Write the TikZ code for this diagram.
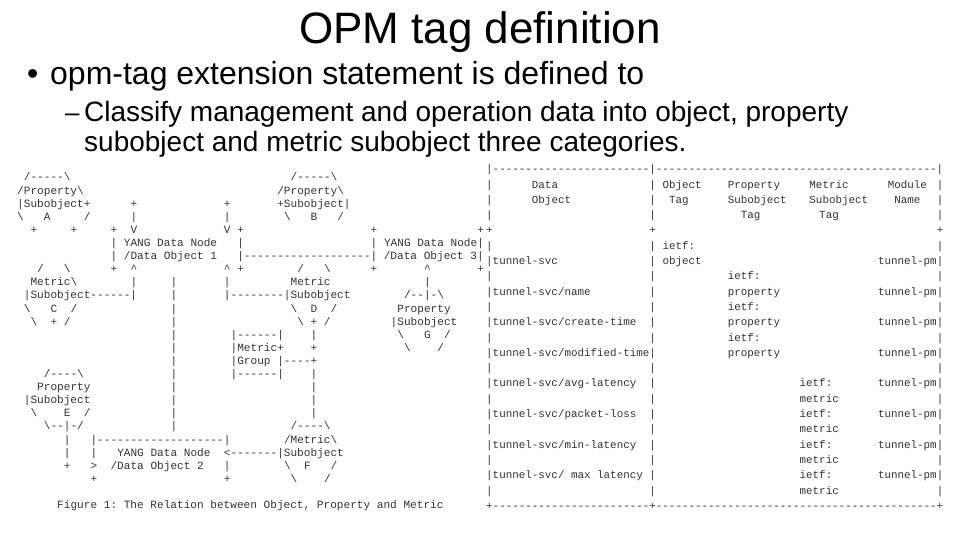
\documentclass[tikz,border=0pt]{standalone}
\usepackage{fontspec}
\setmainfont{Liberation Sans}
\setmonofont{Liberation Mono}
\newcounter{tk}
\newcommand\bs{\textbackslash}
\newcommand\ct{\textasciicircum}
\newcommand\La[3]{\stepcounter{tk}\node[lt] (a\arabic{tk}) at ({17+#1*6.67},{181+#2*13.1}) {#3};}
\newcommand\Tb[3]{\stepcounter{tk}\node[tb] (b\arabic{tk}) at ({486+#1*6.53},{172.7+#2*15.3}) {#3};}
\begin{document}
\begin{tikzpicture}[x=1pt,y=-1pt,
  lt/.style={anchor=base west,inner sep=0pt,text=black!80,font=\ttfamily\fontsize{11.1}{13}\selectfont},
  tb/.style={anchor=base west,inner sep=0pt,text=black!80,font=\ttfamily\fontsize{10.88}{13}\selectfont},
  slide/.style={anchor=base west,inner sep=0pt,text=black}]
\useasboundingbox[fill=white] (0,0) rectangle (960,540);
% title and bullets
\node[anchor=base,inner sep=0pt] (title) at (480,44) {\fontsize{44}{50}\selectfont OPM tag definition};
\node[slide] (bul1) at (27,85) {\fontsize{32}{36}\selectfont •};
\node[slide] (txt1) at (50,85) {\fontsize{32}{36}\selectfont opm-tag extension statement is defined to};
\node[slide] (bul2) at (65,122) {\fontsize{26}{30}\selectfont –};
\node[slide] (txt2) at (84,122) {\fontsize{28}{32}\selectfont Classify management and operation data into object, property};
\node[slide] (txt3) at (84,152) {\fontsize{28}{32}\selectfont subobject and metric subobject three categories.};
% left figure
\La{1}{0}{/-----\bs}\La{41}{0}{/-----\bs}
\La{0}{1}{/Property\bs}\La{39}{1}{/Property\bs}
\La{0}{2}{|Subobject+}\La{17}{2}{+}\La{31}{2}{+}\La{39}{2}{+Subobject|}
\La{0}{3}{\bs}\La{4}{3}{A}\La{10}{3}{/}\La{17}{3}{|}\La{31}{3}{|}\La{40}{3}{\bs}\La{44}{3}{B}\La{48}{3}{/}
\La{2}{4}{+}\La{8}{4}{+}\La{14}{4}{+}\La{17}{4}{V}\La{31}{4}{V +}\La{53}{4}{+}\La{69}{4}{+}
\La{14}{5}{| YANG Data Node}\La{33}{5}{|}\La{53}{5}{| YANG Data Node|}
\La{14}{6}{| /Data Object 1}\La{33}{6}{|-------------------| /Data Object 3|}
\La{3}{7}{/}\La{7}{7}{\bs}\La{14}{7}{+}\La{17}{7}{\ct}\La{31}{7}{\ct{} +}\La{42}{7}{/}\La{46}{7}{\bs}\La{53}{7}{+}\La{61}{7}{\ct}\La{69}{7}{+}
\La{2}{8}{Metric\bs}\La{17}{8}{|}\La{23}{8}{|}\La{31}{8}{|}\La{41}{8}{Metric}\La{61}{8}{|}
\La{1}{9}{|Subobject------|}\La{23}{9}{|}\La{31}{9}{|--------|Subobject}\La{58}{9}{/--|-\bs}
\La{1}{10}{\bs}\La{5}{10}{C}\La{8}{10}{/}\La{23}{10}{|}\La{41}{10}{\bs}\La{44}{10}{D}\La{47}{10}{/}\La{57}{10}{Property}
\La{2}{11}{\bs}\La{5}{11}{+}\La{7}{11}{/}\La{23}{11}{|}\La{42}{11}{\bs{} + /}\La{56}{11}{|Subobject}
\La{23}{12}{|}\La{32}{12}{|------|}\La{44}{12}{|}\La{57}{12}{\bs}\La{61}{12}{G}\La{64}{12}{/}
\La{23}{13}{|}\La{32}{13}{|Metric+}\La{44}{13}{+}\La{58}{13}{\bs}\La{63}{13}{/}
\La{23}{14}{|}\La{32}{14}{|Group |----+}
\La{4}{15}{/----\bs}\La{23}{15}{|}\La{32}{15}{|------|}\La{44}{15}{|}
\La{3}{16}{Property}\La{23}{16}{|}\La{44}{16}{|}
\La{1}{17}{|Subobject}\La{23}{17}{|}\La{44}{17}{|}
\La{2}{18}{\bs}\La{7}{18}{E}\La{10}{18}{/}\La{23}{18}{|}\La{44}{18}{|}
\La{4}{19}{\bs--|-/}\La{23}{19}{|}\La{41}{19}{/----\bs}
\La{7}{20}{|}\La{11}{20}{|-------------------|}\La{40}{20}{/Metric\bs}
\La{7}{21}{|}\La{11}{21}{|}\La{15}{21}{YANG Data Node}\La{31}{21}{<-------|Subobject}
\La{7}{22}{+}\La{11}{22}{>}\La{14}{22}{/Data Object 2}\La{31}{22}{|}\La{40}{22}{\bs}\La{43}{22}{F}\La{47}{22}{/}
\La{11}{23}{+}\La{31}{23}{+}\La{41}{23}{\bs}\La{46}{23}{/}
\La{6}{25}{Figure 1: The Relation between Object, Property and Metric}
% right table
\Tb{0}{0}{|------------------------|-------------------------------------------|}
\foreach \r in {1,2,3,5,6,7,8,9,10,11,12,13,14,15,16,17,18,19,20,21}{\Tb{0}{\r}{|}\Tb{25}{\r}{|}\Tb{69}{\r}{|}}
\Tb{0}{4}{+}\Tb{25}{4}{+}\Tb{69}{4}{+}
\Tb{7}{1}{Data}\Tb{27}{1}{Object}\Tb{37}{1}{Property}\Tb{49.5}{1}{Metric}\Tb{61.5}{1}{Module}
\Tb{7}{2}{Object}\Tb{28}{2}{Tag}\Tb{37}{2}{Subobject}\Tb{49.5}{2}{Subobject}\Tb{62.5}{2}{Name}
\Tb{39}{3}{Tag}\Tb{51}{3}{Tag}
\Tb{27}{5}{ietf:}
\Tb{1}{6}{tunnel-svc}\Tb{27}{6}{object}\Tb{60}{6}{tunnel-pm}
\Tb{37}{7}{ietf:}
\Tb{1}{8}{tunnel-svc/name}\Tb{37}{8}{property}\Tb{60}{8}{tunnel-pm}
\Tb{37}{9}{ietf:}
\Tb{1}{10}{tunnel-svc/create-time}\Tb{37}{10}{property}\Tb{60}{10}{tunnel-pm}
\Tb{37}{11}{ietf:}
\Tb{1}{12}{tunnel-svc/modified-time}\Tb{37}{12}{property}\Tb{60}{12}{tunnel-pm}
\Tb{1}{14}{tunnel-svc/avg-latency}\Tb{48}{14}{ietf:}\Tb{60}{14}{tunnel-pm}
\Tb{48}{15}{metric}
\Tb{1}{16}{tunnel-svc/packet-loss}\Tb{48}{16}{ietf:}\Tb{60}{16}{tunnel-pm}
\Tb{48}{17}{metric}
\Tb{1}{18}{tunnel-svc/min-latency}\Tb{48}{18}{ietf:}\Tb{60}{18}{tunnel-pm}
\Tb{48}{19}{metric}
\Tb{1}{20}{tunnel-svc/ max latency}\Tb{48}{20}{ietf:}\Tb{60}{20}{tunnel-pm}
\Tb{48}{21}{metric}
\Tb{0}{22}{+------------------------+-------------------------------------------+}
\end{tikzpicture}
\end{document}
